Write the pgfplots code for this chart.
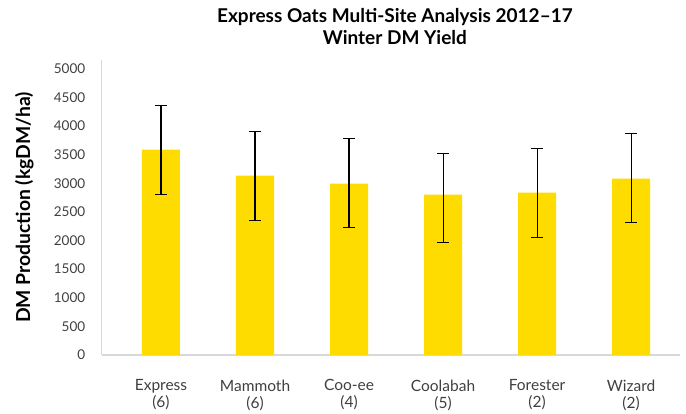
\documentclass[border=0pt]{standalone}
\usepackage{pgfplots}
\pgfplotsset{compat=1.18}
\usepackage{pgfplotstable}
\usepackage{fontspec}
\setmainfont{Lato}

\definecolor{oatyellow}{HTML}{FFDC00}
\definecolor{axisgray}{HTML}{D9D9D9}
\definecolor{ticktext}{HTML}{404040}

% mean yield and error bar extents (kgDM/ha)
\pgfplotstableread{
x  y     ep   em
0  3585  774  780
1  3131  774  780
2  2992  785  769
3  2800  715  833
4  2835  768  781
5  3079  786  768
}\yielddata

\begin{document}
\begin{tikzpicture}
\begin{axis}[
    scale only axis,
    width=578pt, height=294.9pt,
    xmin=-0.63, xmax=5.52,
    ymin=0, ymax=5150,
    axis lines=left,
    axis line style={-, draw=axisgray, line width=1.5pt},
    major tick length=0pt,
    ytick={0,500,...,5000},
    xtick={0,1,2,3,4,5},
    xticklabels={{Express\\(6)},{Mammoth\\(6)},{Coo-ee\\(4)},{Coolabah\\(5)},{Forester\\(2)},{Wizard\\(2)}},
    /pgf/number format/assume math mode=true,
    /pgf/number format/1000 sep={},
    tick label style={text=ticktext},
    yticklabel style={font=\fontsize{13.5}{16}\selectfont, xshift=-13pt},
    xticklabel style={font=\fontsize{15.5}{17}\selectfont, align=center, yshift=-21pt},
    ylabel={DM Production (kgDM/ha)},
    every axis y label/.style={at={(axis description cs:-0.134,0.5)}, rotate=90, anchor=center,
        font=\bfseries\fontsize{19.3}{22}\selectfont},
    title={Express Oats Multi-Site Analysis 2012--17\\ Winter DM Yield},
    title style={font=\bfseries\fontsize{19}{22}\selectfont, align=center,
        at={(axis description cs:0.507,1.0)}, anchor=south, yshift=6pt},
    clip=false,
]
\addplot[
    ybar, bar width=38pt, fill=oatyellow, draw=none,
    error bars/.cd, y dir=both, y explicit,
    error bar style={black, line width=1.1pt},
    error mark options={rotate=90, mark size=6pt, line width=1.1pt, black},
] table[x=x, y=y, y error plus=ep, y error minus=em] {\yielddata};
\end{axis}
\pgfresetboundingbox
\path ([shift={(-101.7pt,-58.7pt)}]current axis.south west) rectangle ([shift={(6pt,60pt)}]current axis.north east);
\end{tikzpicture}
\end{document}
